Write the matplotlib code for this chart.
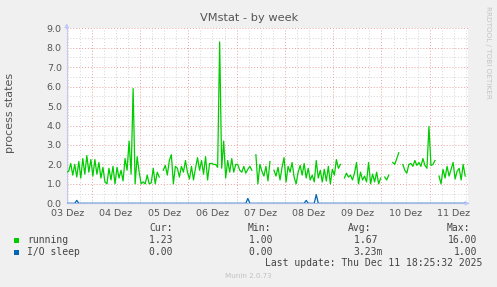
import numpy as np
import matplotlib
matplotlib.use("Agg")
import matplotlib.pyplot as plt
from matplotlib.patches import Rectangle

# ---------------- data ----------------
title = "VMstat - by week"
ylabel = "process states"
day_labels = ["03 Dez", "04 Dez", "05 Dez", "06 Dez", "07 Dez",
              "08 Dez", "09 Dez", "10 Dez", "11 Dez"]
start_day = 0.483          # days since 03 Dez 00:00 (first sample)
step_day = 1.0 / 24.0      # hourly samples
nan = np.nan

running = [
    1.6, 1.65, 2.05, 1.45, 2.0, 1.35, 2.15, 1.3, 2.3, 1.5,
    2.45, 1.6, 2.25, 1.4, 2.25, 1.5, 2.1, 1.3, 1.85, 1.1,
    1.0, 1.8, 1.2, 1.9, 1.0, 1.85, 1.3, 1.7, 1.15, 2.3,
    1.7, 3.2, 1.5, 5.9, 1.0, 2.4, 1.6, 1.0, 1.1, 1.0,
    1.45, 1.0, 1.05, 1.8, 1.0, 1.6, 1.35, nan, 1.7, 1.95,
    1.45, 2.2, 2.5, 1.0, 1.9, 1.8, 1.35, 1.9, 1.6, 2.2,
    1.6, 1.25, 1.9, 1.2, 1.8, 2.35, 1.7, 2.2, 1.5, 2.4,
    1.2, 2.05, 2.05, 2.0, 2.0, 1.85, 8.3, 1.8, 3.2, 1.3,
    2.2, 1.6, 2.3, 1.6, 2.0, 2.0, 1.7, 1.6, 1.9, 1.55,
    1.75, 1.9, 1.7, nan, 2.5, 1.0, 2.0, 1.65, 1.4, 1.9,
    1.15, 2.15, nan, 1.7, 1.4, 1.85, 1.2, 1.85, 2.35, 1.1,
    1.9, 1.6, 2.1, 1.35, 1.0, 1.6, 1.95, 1.45, 2.05, 1.3,
    1.8, 1.2, 1.45, 1.1, 2.2, 1.3, 1.7, 1.1, 1.75, 1.15,
    1.9, 1.0, 1.75, 1.45, 2.25, 1.8, 2.0, nan, 1.3, 1.55,
    1.35, 1.45, 1.2, 1.55, 2.1, 1.0, 1.6, 1.2, 1.4, 1.1,
    2.1, 1.0, 1.5, 1.1, 1.6, 1.0, 1.3, nan, 1.35, 1.2,
    1.45, nan, 2.1, 2.0, 2.3, 2.6, nan, 2.0, 1.7, 1.55,
    2.0, 2.05, 1.9, 2.2, 1.95, 2.1, 1.9, 2.3, 1.95, 1.8,
    3.95, 1.95, 2.0, 2.2, nan, 1.4, 1.0, 1.75, 1.3, 1.9,
    1.4, 1.75, 2.1, 1.25, 1.65, 1.8, 1.2, 2.0, 1.4,
]

io_sleep = [
    0.0, 0.0, 0.0, 0.0, 0.0, 0.15, 0.0, 0.0, 0.0, 0.0,
    0.0, 0.0, 0.0, 0.0, 0.0, 0.0, 0.0, 0.0, 0.0, 0.0,
    0.0, 0.0, 0.0, 0.0, 0.0, 0.0, 0.0, 0.0, 0.0, 0.0,
    0.0, 0.0, 0.0, 0.0, 0.0, 0.0, 0.0, 0.0, 0.0, 0.0,
    0.0, 0.0, 0.0, 0.0, 0.0, 0.0, 0.0, 0.0, 0.0, 0.0,
    0.0, 0.0, 0.0, 0.0, 0.0, 0.0, 0.0, 0.0, 0.0, 0.0,
    0.0, 0.0, 0.0, 0.0, 0.0, 0.0, 0.0, 0.0, 0.0, 0.0,
    0.0, 0.0, 0.0, 0.0, 0.0, 0.0, 0.0, 0.0, 0.0, 0.0,
    0.0, 0.0, 0.0, 0.0, 0.0, 0.0, 0.0, 0.0, 0.0, 0.0,
    0.25, 0.0, 0.0, 0.0, 0.0, 0.0, 0.0, 0.0, 0.0, 0.0,
    0.0, 0.0, 0.0, 0.0, 0.0, 0.0, 0.0, 0.0, 0.0, 0.0,
    0.0, 0.0, 0.0, 0.0, 0.0, 0.0, 0.0, 0.0, 0.0, 0.15,
    0.0, 0.0, 0.0, 0.0, 0.45, 0.0, 0.0, 0.0, 0.0, 0.0,
    0.0, 0.0, 0.0, 0.0, 0.0, 0.0, 0.0, 0.0, 0.0, 0.0,
    0.0, 0.0, 0.0, 0.0, 0.0, 0.0, 0.0, 0.0, 0.0, 0.0,
    0.0, 0.0, 0.0, 0.0, 0.0, 0.0, 0.0, 0.0, 0.0, 0.0,
    0.0, 0.0, 0.0, 0.0, 0.0, 0.0, 0.0, 0.0, 0.0, 0.0,
    0.0, 0.0, 0.0, 0.0, 0.0, 0.0, 0.0, 0.0, 0.0, 0.0,
    0.0, 0.0, 0.0, 0.0, 0.0, 0.0, 0.0, 0.0, 0.0, 0.0,
    0.0, 0.0, 0.0, 0.0, 0.0, 0.0, 0.0, 0.0, 0.0,
]

series_names = ["running", "I/O sleep"]
series_colors = ["#00cc00", "#0066b3"]
stat_headers = ["Cur:", "Min:", "Avg:", "Max:"]
stats_running = ["1.23", "1.00", "1.67", "16.00"]
stats_io = ["0.00", "0.00", "3.23m", "1.00"]
last_update = "Last update: Thu Dec 11 18:25:32 2025"
footer = "Munin 2.0.73"
side_text = "RRDTOOL / TOBI OETIKER"

# ---------------- figure ----------------
W, H = 497, 287
fig = plt.figure(figsize=(W / 100, H / 100), dpi=100, facecolor="#f0f0f0")
ax = fig.add_axes([66.7 / W, 1 - 203.3 / H, (467.6 - 66.7) / W, (203.3 - 28.3) / H])
ax.set_facecolor("white")

n = len(running)
t = start_day + step_day * np.arange(n)
x_end = start_day + step_day * (n + 0.2)
ax.set_xlim(start_day, x_end)
ax.set_ylim(0, 9)

# grid
minor_col = "#d4d4d4"
major_col = "#e8a0a0"
dot = (0, (1, 2))
for yv in np.arange(0.5, 9.01, 0.5):
    is_major = abs(yv - round(yv)) < 1e-6
    ax.axhline(yv, color=major_col if is_major else minor_col, lw=0.7,
               ls=dot, zorder=1)
for xv in np.arange(np.ceil(start_day * 4) / 4, x_end, 0.25):
    is_major = abs(xv - round(xv)) < 1e-6
    ax.axvline(xv, color=major_col if is_major else minor_col, lw=0.7,
               ls=dot, zorder=1)

ax.plot(t, running, color=series_colors[0], lw=0.9, zorder=3)
ax.plot(t, io_sleep, color=series_colors[1], lw=0.9, zorder=4)

# ticks
ax.set_yticks(np.arange(0, 9.01, 1.0))
ax.set_yticklabels([f"{v:.1f}" for v in np.arange(0, 9.01, 1.0)])
noons = np.arange(len(day_labels)) + 0.5
ax.set_xticks(noons)
ax.set_xticklabels(day_labels)
ax.tick_params(axis="both", length=0, labelsize=6.8, colors="#555555")
ax.tick_params(axis="y", pad=3.5)
ax.tick_params(axis="x", pad=4.2)

for s in ["top", "right"]:
    ax.spines[s].set_visible(False)
ax.spines["left"].set_color("#c8c8f0")
ax.spines["bottom"].set_color("#a8b8e8")
ax.spines["left"].set_linewidth(0.8)
ax.spines["bottom"].set_linewidth(0.8)

arrow_col = "#c0c8f8"
ax.annotate("", xy=(0, 1.045), xytext=(0, 0.98), xycoords="axes fraction",
            arrowprops=dict(arrowstyle="-|>", color=arrow_col, lw=0.8,
                            mutation_scale=6), annotation_clip=False)
ax.annotate("", xy=(1.012, 0), xytext=(0.99, 0), xycoords="axes fraction",
            arrowprops=dict(arrowstyle="-|>", color=arrow_col, lw=0.8,
                            mutation_scale=6), annotation_clip=False)

# texts
fig.text(249 / W, 1 - 18 / H, title, ha="center", va="center",
         fontsize=8.2, color="#555555")
fig.text(10 / W, 1 - 113 / H, ylabel, ha="center", va="center",
         rotation=90, fontsize=8.0, color="#555555")
fig.text(488 / W, 1 - 52 / H, side_text, ha="center", va="center",
         rotation=270, fontsize=5.2, color="#c4c4c4")

mono = "DejaVu Sans Mono"
tc = "#444444"
fs = 7.0
header_x = [149, 248, 348, 447]
value_right = [178, 278, 383, 477]
for hx, hd in zip(header_x, stat_headers):
    fig.text(hx / W, 1 - 228 / H, hd, ha="left", va="center",
             family=mono, fontsize=fs, color=tc)
rows_y = [240, 252]
for ry, name, col, vals in zip(rows_y, series_names, series_colors,
                               [stats_running, stats_io]):
    fig.patches.append(Rectangle((14 / W, 1 - (ry + 2.5) / H), 5 / W, 5 / H,
                                 transform=fig.transFigure, facecolor=col,
                                 edgecolor="none"))
    fig.text(27 / W, 1 - ry / H, name, ha="left", va="center",
             family=mono, fontsize=fs, color=tc)
    for vr, v in zip(value_right, vals):
        txt = v if v.endswith("m") else v + " "
        if vr == 477:
            txt = v
        fig.text(vr / W, 1 - ry / H, txt, ha="right", va="center",
                 family=mono, fontsize=fs, color=tc)
fig.text(482 / W, 1 - 263 / H, last_update, ha="right", va="center",
         family=mono, fontsize=fs, color=tc)
fig.text(248 / W, 1 - 276 / H, footer, ha="center", va="center",
         fontsize=5.1, color="#c0c0c0")

fig.savefig("out.png", dpi=100, facecolor=fig.get_facecolor())
